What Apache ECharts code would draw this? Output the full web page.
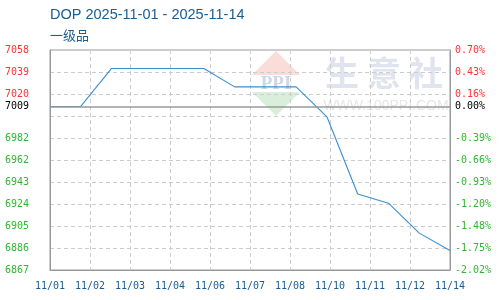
<!DOCTYPE html>
<html>
<head>
<meta charset="utf-8">
<script src="https://cdn.jsdelivr.net/npm/echarts@6/dist/echarts.min.js"></script>
<style>html,body{margin:0;padding:0;background:#fff}#c{width:500px;height:300px}</style>
</head>
<body>
<div id="c"></div>
<script>
const titleText = 'DOP 2025-11-01 - 2025-11-14';
const subText = '一级品';
const dates = ['11/01','11/02','11/03','11/04','11/05','11/06','11/07','11/08','11/09','11/10','11/11','11/12','11/13','11/14'];
const prices = [7009,7009,7042,7042,7042,7042,7026,7026,7026,7000,6933,6925,6899,6884];
const xTickLabels = ['11/01','11/02','11/03','11/04','11/06','11/07','11/08','11/10','11/11','11/12','11/14'];
const baseValue = 7009;
const yMin = 6867;
const yMax = 7058;
const leftTickLabels = ['6867','6886','6905','6924','6943','6962','6982','','7020','7039','7058'];
const rightTickLabels = ['-2.02%','-1.75%','-1.48%','-1.20%','-0.93%','-0.66%','-0.39%','','0.16%','0.43%','0.70%'];
const baseLabelLeft = '7009';
const baseLabelRight = '0.00%';

const RED = '#ff3333', GREEN = '#33b533', BLACK = '#000';
const step = (yMax - yMin) / 10;
const gridVals = leftTickLabels.map((_, i) => yMin + i * step);
const labelVals = gridVals.filter((_, i) => leftTickLabels[i] !== '').concat([baseValue]);
function labelFor(v, arr, baseLbl) {
  if (Math.abs(v - baseValue) < 1e-6) return baseLbl;
  const i = Math.round((v - yMin) / step);
  return arr[i] || '';
}
function colorFor(v) {
  if (Math.abs(v - baseValue) < 1e-6) return 'k';
  return v > baseValue ? 'r' : 'g';
}
const rich = {
  r: {color: RED, fontFamily: 'DejaVu Sans Mono', fontSize: 10},
  g: {color: GREEN, fontFamily: 'DejaVu Sans Mono', fontSize: 10},
  k: {color: BLACK, fontFamily: 'DejaVu Sans Mono', fontSize: 10}
};

const chart = echarts.init(document.getElementById('c'), null, {renderer: 'canvas'});
chart.setOption({
  animation: false,
  backgroundColor: '#fff',
  title: {
    text: titleText, subtext: subText, left: 50, top: 7, padding: 0, itemGap: 7,
    textStyle: {fontFamily: 'Liberation Sans', fontSize: 14.5, fontWeight: 'normal', color: '#1a5d8f'},
    subtextStyle: {fontFamily: 'Noto Sans CJK SC', fontSize: 13, color: '#1a5d8f'}
  },
  graphic: [
    {type: 'polygon', z: -10, shape: {points: [[252,75],[276,51],[300,75]]}, style: {fill: '#fadcd8'}},
    {type: 'polygon', z: -10, shape: {points: [[252,92],[300,92],[276,116]]}, style: {fill: '#d9efdc'}},
    {type: 'text', z: -10, x: 276, y: 84, style: {text: 'PPI', font: 'bold 19px "Liberation Serif"', fill: '#ccd7ea', align: 'center', verticalAlign: 'middle'}},
    {type: 'text', z: -10, x: 342, y: 73, style: {text: '生', font: 'bold 34px "Noto Sans CJK SC"', fill: '#e0e4ee', align: 'center', verticalAlign: 'middle'}},
    {type: 'text', z: -10, x: 384, y: 73, style: {text: '意', font: 'bold 34px "Noto Sans CJK SC"', fill: '#e0e4ee', align: 'center', verticalAlign: 'middle'}},
    {type: 'text', z: -10, x: 426, y: 73, style: {text: '社', font: 'bold 34px "Noto Sans CJK SC"', fill: '#e0e4ee', align: 'center', verticalAlign: 'middle'}},
    {type: 'text', z: -10, x: 386, y: 106, style: {text: 'WWW.100PPI.COM', font: '14px "Liberation Sans"', fill: '#e6e6e6', align: 'center', verticalAlign: 'middle'}}
  ],
  grid: {left: 50, right: 50, top: 50, bottom: 30, show: true, borderColor: '#999', borderWidth: 1, containLabel: false},
  xAxis: [
    {
      type: 'category', data: xTickLabels, boundaryGap: false,
      axisLine: {show: true, lineStyle: {color: '#999', width: 1}},
      axisTick: {show: false},
      axisLabel: {interval: 0, margin: 11, fontFamily: 'DejaVu Sans Mono', fontSize: 10, color: '#1a5d8f'},
      splitLine: {show: true, interval: 0, lineStyle: {color: '#ccc', type: [4, 3], width: 1}}
    },
    {
      type: 'category', data: dates, boundaryGap: false, show: false,
      axisLine: {show: false}, axisTick: {show: false}, axisLabel: {show: false}, splitLine: {show: false}
    }
  ],
  yAxis: [
    {
      type: 'value', min: yMin, max: yMax, position: 'left',
      axisLine: {show: true, lineStyle: {color: '#999', width: 1}},
      axisTick: {show: false, customValues: gridVals},
      splitLine: {show: true, lineStyle: {color: '#ccc', type: [4, 3], width: 1}},
      axisLabel: {
        customValues: labelVals, align: 'left', margin: 45,
        formatter: v => '{' + colorFor(v) + '|' + labelFor(v, leftTickLabels, baseLabelLeft) + '}',
        rich: rich
      }
    },
    {
      type: 'value', min: yMin, max: yMax, position: 'right',
      axisLine: {show: true, lineStyle: {color: '#999', width: 1}},
      axisTick: {show: false, customValues: gridVals},
      splitLine: {show: false},
      axisLabel: {
        customValues: labelVals, align: 'left', margin: 5,
        formatter: v => '{' + colorFor(v) + '|' + labelFor(v, rightTickLabels, baseLabelRight) + '}',
        rich: rich
      }
    }
  ],
  series: [{
    type: 'line', xAxisIndex: 1, yAxisIndex: 0, data: prices,
    symbol: 'none', lineStyle: {color: '#3a8fd2', width: 1.1}, z: 3,
    markLine: {
      silent: true, symbol: 'none', label: {show: false},
      lineStyle: {color: '#999', type: 'solid', width: 1.5},
      data: [{yAxis: baseValue}]
    }
  }]
});
</script>
</body>
</html>
